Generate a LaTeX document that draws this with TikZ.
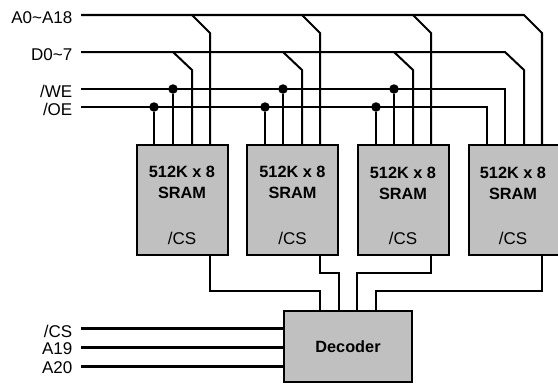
\documentclass[tikz,border=0pt]{standalone}
\usepackage{fontspec}
\setmainfont{Liberation Sans}
\usepackage{xcolor}
\usetikzlibrary{positioning, calc}
\definecolor{boxgray}{HTML}{C0C0C0}

\begin{document}
\begin{tikzpicture}[
    x=1pt, y=-1pt,
    sram/.style={draw=black, fill=boxgray, line width=2pt, minimum width=91pt, minimum height=110pt, outer sep=0pt, inner sep=0pt},
    decoder/.style={draw=black, fill=boxgray, line width=2pt, minimum width=128.5pt, minimum height=71pt, outer sep=0pt, align=center, font=\fontsize{16.3}{18}\selectfont\bfseries},
    chip/.style={font=\fontsize{16.3}{21}\selectfont\bfseries, align=center},
    pin/.style={font=\fontsize{17}{19}\selectfont},
    signal/.style={font=\fontsize{17}{19}\selectfont, anchor=east, inner sep=0pt},
    bus/.style={line width=2.1pt, line join=miter},
    wire/.style={line width=2pt, line join=miter},
    ctrl/.style={line width=3pt},
    joint/.style={circle, fill=black, minimum size=9.5pt, inner sep=0pt, outer sep=0pt}
]
\useasboundingbox (0,0) rectangle (558,384);

% Signal labels
\node[signal] (lblA) at (72.5,18) {A0\textasciitilde A18};
\node[signal] (lblD) at (72.5,55) {D0\textasciitilde 7};
\node[signal] (lblW) at (72.5,91) {/WE};
\node[signal] (lblO) at (72.5,109) {/OE};
\node[signal] (lblC) at (72.5,331) {/CS};
\node[signal] (lblL) at (72.5,349) {A19};
\node[signal] (lblH) at (72.5,368) {A20};

% Chips
\node[sram] (sram1) at (182.5,199.7) {};
\node[sram] (sram2) at (292.5,199.7) {};
\node[sram] (sram3) at (403.5,199.7) {};
\node[sram] (sram4) at (514.5,199.7) {};
\node[decoder] (dec) at (348,346.5) {Decoder};

% Chip texts
\node[chip] (name1) at (182,182) {512K x 8\\SRAM};
\node[chip] (name2) at (292.5,182) {512K x 8\\SRAM};
\node[chip] (name3) at (403,183) {512K x 8\\SRAM};
\node[chip] (name4) at (513,183) {512K x 8\\SRAM};
\node[pin] (cs1) at (182,238) {/CS};
\node[pin] (cs2) at (292.5,238) {/CS};
\node[pin] (cs3) at (403,238) {/CS};
\node[pin] (cs4) at (513,238) {/CS};

% Address bus
\coordinate (a0) at (81,15);
\coordinate (a1) at (192,15);
\coordinate (a2) at (302,15);
\coordinate (a3) at (413,15);
\coordinate (a4) at (524,15);
\coordinate (ak1) at (210,33);
\coordinate (ak2) at (320,33);
\coordinate (ak3) at (431,33);
\coordinate (ak4) at (542,33);
\draw[bus] (a0) -- (a4) -- (ak4) -- (ak4 |- sram4.north);
\draw[wire] (a1) -- (ak1) -- (ak1 |- sram1.north);
\draw[wire] (a2) -- (ak2) -- (ak2 |- sram2.north);
\draw[wire] (a3) -- (ak3) -- (ak3 |- sram3.north);

% Data bus
\coordinate (d0) at (81,52);
\coordinate (d1) at (173,52);
\coordinate (d2) at (283,52);
\coordinate (d3) at (394,52);
\coordinate (d4) at (505,52);
\coordinate (dk1) at (192,70);
\coordinate (dk2) at (302,70);
\coordinate (dk3) at (413,70);
\coordinate (dk4) at (524,70);
\draw[wire] (d0) -- (d4) -- (dk4) -- (dk4 |- sram4.north);
\draw[wire] (d1) -- (dk1) -- (dk1 |- sram1.north);
\draw[wire] (d2) -- (dk2) -- (dk2 |- sram2.north);
\draw[wire] (d3) -- (dk3) -- (dk3 |- sram3.north);

% Write enable
\coordinate (w0) at (81,89);
\coordinate (w4) at (505,89);
\node[joint] (w1) at (173,89) {};
\node[joint] (w2) at (283,89) {};
\node[joint] (w3) at (394,89) {};
\draw[wire] (w0) -- (w4) -- (w4 |- sram4.north);
\draw[wire] (w1) -- (w1 |- sram1.north);
\draw[wire] (w2) -- (w2 |- sram2.north);
\draw[wire] (w3) -- (w3 |- sram3.north);

% Output enable
\coordinate (o0) at (81,107);
\coordinate (o4) at (487,107);
\node[joint] (o1) at (154,107) {};
\node[joint] (o2) at (265,107) {};
\node[joint] (o3) at (376,107) {};
\draw[wire] (o0) -- (o4) -- (o4 |- sram4.north);
\draw[wire] (o1) -- (o1 |- sram1.north);
\draw[wire] (o2) -- (o2 |- sram2.north);
\draw[wire] (o3) -- (o3 |- sram3.north);

% Chip selects
\coordinate (s1) at (210,255);
\coordinate (s2) at (320,255);
\coordinate (s3) at (431,255);
\coordinate (s4) at (542,255);
\coordinate (t1) at (320,310);
\coordinate (t2) at (339,310);
\coordinate (t3) at (357,310);
\coordinate (t4) at (376,310);
\draw[wire] (s1) |- (320,291) -- (t1);
\draw[wire] (s2) |- (339,273) -- (t2);
\draw[wire] (s3) |- (357,273) -- (t3);
\draw[wire] (s4) |- (376,291) -- (t4);

% Decoder inputs
\coordinate (c0) at (81,328);
\coordinate (l0) at (81,347);
\coordinate (h0) at (81,366);
\draw[ctrl] (c0) -- (c0 -| dec.west);
\draw[ctrl] (l0) -- (l0 -| dec.west);
\draw[ctrl] (h0) -- (h0 -| dec.west);

\end{tikzpicture}
\end{document}
